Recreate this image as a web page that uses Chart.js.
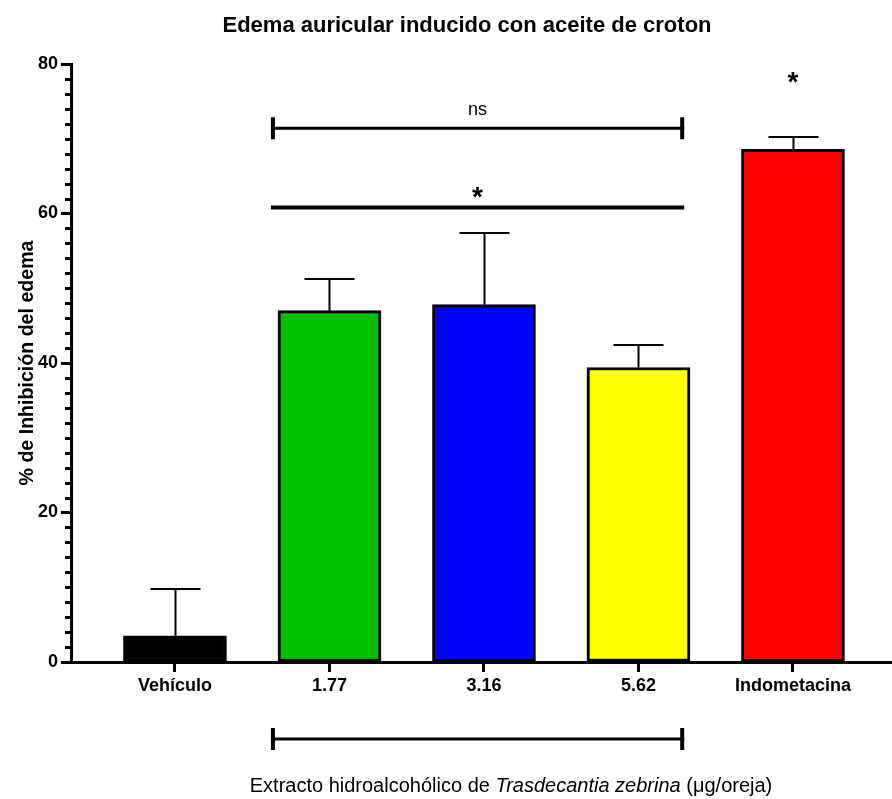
<!DOCTYPE html>
<html><head><meta charset="utf-8">
<script src="https://cdn.jsdelivr.net/npm/chart.js@4"></script>
<style>html,body{margin:0;padding:0;background:#fff}</style>
</head><body>
<canvas id="c" width="892" height="799"></canvas>
<script>
// ---- data ----
const categories = ['Vehículo', '1.77', '3.16', '5.62', 'Indometacina'];
const means = [3.5, 47.0, 47.8, 39.4, 68.6];
const errUpper = [6.3, 4.2, 9.6, 3.0, 1.6];
const barColors = ['#000000', '#00C000', '#0000FF', '#FFFF00', '#FF0000'];
const yTicks = [0, 20, 40, 60, 80];
const chartTitle = 'Edema auricular inducido con aceite de croton';
const yTitle = '% de Inhibición del edema';
const xTitleParts = [
  { text: 'Extracto hidroalcohólico de ', italic: false },
  { text: 'Trasdecantia zebrina', italic: true },
  { text: ' (μg/oreja)', italic: false }
];
// significance annotations (x in category units, y in data units)
const sigBrackets = [
  { x1: 0.621, x2: 3.296, y: 71.4, label: 'ns', ends: true },
  { x1: 0.621, x2: 3.296, y: 60.8, label: '*', ends: false }
];
const sigStars = [{ x: 4, y: 78.3, label: '*' }];

const FONT = '"Liberation Sans", Arial, Helvetica, sans-serif';
Chart.defaults.font.family = FONT;
Chart.defaults.color = '#000';

const deco = {
  id: 'deco',
  afterDatasetsDraw(chart) {
    const { ctx, scales: { x, y }, chartArea } = chart;
    ctx.save();
    ctx.strokeStyle = '#000';
    ctx.fillStyle = '#000';
    // error bars (upper only)
    ctx.lineWidth = 2;
    means.forEach((m, i) => {
      const px = Math.round(x.getPixelForValue(i)) + 0.5;
      const base = y.getPixelForValue(m);
      const top = Math.round(y.getPixelForValue(m + errUpper[i]));
      ctx.beginPath();
      ctx.moveTo(px, base);
      ctx.lineTo(px, top);
      ctx.moveTo(px - 25, top);
      ctx.lineTo(px + 25, top);
      ctx.stroke();
    });
    // minor y ticks
    ctx.lineWidth = 3;
    for (let v = 0; v <= 80; v += 2) {
      if (yTicks.includes(v)) continue;
      const py = Math.round(y.getPixelForValue(v)) + 0.5;
      ctx.beginPath();
      ctx.moveTo(chartArea.left - 6, py);
      ctx.lineTo(chartArea.left, py);
      ctx.stroke();
    }
    // significance brackets
    sigBrackets.forEach(b => {
      const a = x.getPixelForValue(b.x1), c = x.getPixelForValue(b.x2);
      const py = y.getPixelForValue(b.y);
      ctx.lineWidth = b.ends ? 3 : 4;
      ctx.beginPath();
      ctx.moveTo(a, py); ctx.lineTo(c, py); ctx.stroke();
      if (b.ends) {
        ctx.lineWidth = 4;
        ctx.beginPath();
        ctx.moveTo(a + 2, py - 11); ctx.lineTo(a + 2, py + 11);
        ctx.moveTo(c - 2, py - 11); ctx.lineTo(c - 2, py + 11);
        ctx.stroke();
      }
      ctx.textAlign = 'center';
      ctx.textBaseline = 'alphabetic';
      const mid = (a + c) / 2;
      if (b.label === '*') {
        ctx.font = 'bold 28px ' + FONT;
        ctx.fillText(b.label, mid, py - 2);
      } else {
        ctx.font = '18px ' + FONT;
        ctx.fillText(b.label, mid, py - 13);
      }
    });
    sigStars.forEach(s => {
      ctx.font = 'bold 28px ' + FONT;
      ctx.textAlign = 'center';
      ctx.fillText(s.label, x.getPixelForValue(s.x), y.getPixelForValue(s.y) + 14);
    });
    // group bracket below axis
    {
      const a = x.getPixelForValue(sigBrackets[0].x1), c = x.getPixelForValue(sigBrackets[0].x2);
      const py = chartArea.bottom + 77;
      ctx.lineWidth = 3;
      ctx.beginPath(); ctx.moveTo(a, py); ctx.lineTo(c, py); ctx.stroke();
      ctx.lineWidth = 4;
      ctx.beginPath();
      ctx.moveTo(a + 2, py - 11); ctx.lineTo(a + 2, py + 11);
      ctx.moveTo(c - 2, py - 11); ctx.lineTo(c - 2, py + 11);
      ctx.stroke();
    }
    // chart title
    ctx.font = 'bold 22px ' + FONT;
    ctx.textAlign = 'center';
    ctx.textBaseline = 'alphabetic';
    ctx.fillText(chartTitle, 467, 32);
    // x axis title with italic part
    ctx.textAlign = 'left';
    const fonts = xTitleParts.map(p => (p.italic ? 'italic ' : '') + '20px ' + FONT);
    let total = 0;
    const widths = xTitleParts.map((p, i) => { ctx.font = fonts[i]; const w = ctx.measureText(p.text).width; total += w; return w; });
    let cx = 511 - total / 2;
    xTitleParts.forEach((p, i) => { ctx.font = fonts[i]; ctx.fillText(p.text, cx, chartArea.bottom + 130); cx += widths[i]; });
    ctx.restore();
  }
};

new Chart(document.getElementById('c'), {
  type: 'bar',
  data: {
    datasets: [{
      data: means.map((v, i) => ({ x: i, y: v })),
      backgroundColor: barColors,
      borderColor: '#000',
      borderWidth: 3,
      borderSkipped: false,
      barThickness: 103
    }]
  },
  options: {
    responsive: false,
    animation: false,
    layout: { padding: { top: 64, right: 0, bottom: 0, left: 0 } },
    plugins: { legend: { display: false }, tooltip: { enabled: false }, title: { display: false } },
    scales: {
      x: {
        type: 'linear',
        offset: false,
        min: -0.673,
        max: 4.641,
        afterBuildTicks: s => { s.ticks = categories.map((_, i) => ({ value: i })); },
        afterFit: s => { s.height = 137; },
        ticks: {
          autoSkip: false, maxRotation: 0, padding: 3,
          font: { size: 18, weight: 'bold' }, color: '#000',
          callback: v => categories[v]
        },
        grid: { offset: false, drawOnChartArea: false, drawTicks: true, tickLength: 10, tickWidth: 3, tickColor: '#000' },
        border: { display: true, color: '#000', width: 3 }
      },
      y: {
        min: 0, max: 80,
        afterBuildTicks: s => { s.ticks = yTicks.map(v => ({ value: v })); },
        afterFit: s => { s.width = 71; },
        ticks: { padding: 3, font: { size: 18, weight: 'bold' }, color: '#000' },
        grid: { drawOnChartArea: false, drawTicks: true, tickLength: 10, tickWidth: 3, tickColor: '#000' },
        border: { display: true, color: '#000', width: 3 },
        title: { display: true, text: yTitle, font: { size: 19.6, weight: 'bold' }, color: '#000', padding: { top: 16, bottom: 0 } }
      }
    }
  },
  plugins: [deco]
});
</script>
</body></html>
